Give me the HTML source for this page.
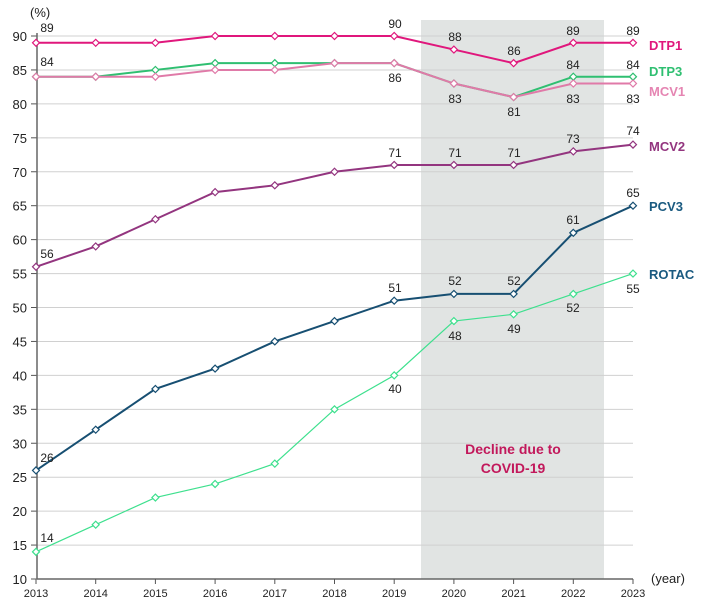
<!DOCTYPE html>
<html><head><meta charset="utf-8"><style>
body{margin:0;background:#fff;}
svg{display:block;font-family:"Liberation Sans",Arial,sans-serif;}
</style></head><body>
<svg id="s" width="706" height="610" xmlns="http://www.w3.org/2000/svg">
<rect x="421" y="20" width="183" height="559" fill="#e1e4e3"/>
<g id="grid"></g>
<text x="30" y="17" font-size="13" fill="#222">(%)</text>
<text x="651" y="583" font-size="13" fill="#222">(year)</text>
<g id="series"></g>
<text x="513" y="454" font-size="14" font-weight="bold" fill="#c2185b" text-anchor="middle">Decline due to</text>
<text x="513" y="473" font-size="14" font-weight="bold" fill="#c2185b" text-anchor="middle">COVID-19</text>
<g font-size="13" font-weight="bold">
<text x="649" y="50" fill="#e0177c">DTP1</text>
<text x="649" y="76" fill="#2fbf71">DTP3</text>
<text x="649" y="96" fill="#e585b2">MCV1</text>
<text x="649" y="151" fill="#93357f">MCV2</text>
<text x="649" y="211" fill="#1a5a80">PCV3</text>
<text x="649" y="279" fill="#1a5a80">ROTAC</text>
</g>
<g id="labels" font-size="12" fill="#222" text-anchor="middle"></g>
</svg>
<script>
const ns="http://www.w3.org/2000/svg";
const X=i=>36+59.7*i, Y=v=>579-(v-10)*6.7875;
function el(t,a,p,txt){const e=document.createElementNS(ns,t);for(const k in a)e.setAttribute(k,a[k]);if(txt!=null)e.textContent=txt;document.getElementById(p).appendChild(e);return e;}
for(let v=10;v<=90;v+=5){const y=Y(v);
 if(v>10)el('line',{x1:37,x2:633,y1:y,y2:y,stroke:'#d0d0d0','stroke-width':1},'grid');
 el('line',{x1:31,x2:37,y1:y,y2:y,stroke:'#555'},'grid');
 el('text',{x:27,y:y+5,'font-size':13,'text-anchor':'end',fill:'#222'},'grid',v);}
el('line',{x1:37,x2:37,y1:Y(90)-3,y2:579,stroke:'#666','stroke-width':1.5},'grid');
el('line',{x1:37,x2:633,y1:579,y2:579,stroke:'#666','stroke-width':1.5},'grid');
for(let i=0;i<=10;i++){el('line',{x1:X(i),x2:X(i),y1:579,y2:584,stroke:'#555'},'grid');
 el('text',{x:X(i),y:597,'font-size':11,'text-anchor':'middle',fill:'#222'},'grid',2013+i);}
const S=[
['#3ee08e',[14,18,22,24,27,35,40,48,49,52,55],1.2],
['#174f72',[26,32,38,41,45,48,51,52,52,61,65],2],
['#93357f',[56,59,63,67,68,70,71,71,71,73,74],2],
['#2fbf71',[84,84,85,86,86,86,86,83,81,84,84],2],
['#e07aa8',[84,84,84,85,85,86,86,83,81,83,83],2],
['#e0177c',[89,89,89,90,90,90,90,88,86,89,89],2]];
for(const [c,d,w] of S){
 el('polyline',{points:d.map((v,i)=>X(i)+','+Y(v)).join(' '),fill:'none',stroke:c,'stroke-width':w},'series');
 d.forEach((v,i)=>el('path',{d:`M${X(i)-3.5},${Y(v)} L${X(i)},${Y(v)-3.5} L${X(i)+3.5},${Y(v)} L${X(i)},${Y(v)+3.5}Z`,fill:'#fff',stroke:c,'stroke-width':1.2},'series'));}
const L=[[47,32,89],[47,66,84],[395,28,90],[455,41,88],[514,55,86],[573,35,89],[633,35,89],
[395,82,86],[455,103,83],[514,116,81],[573,103,83],[633,103,83],[573,69,84],[633,69,84],
[47,258,56],[395,157,71],[455,157,71],[514,157,71],[573,143,73],[633,135,74],
[47,462,26],[395,292,51],[455,285,52],[514,285,52],[573,224,61],[633,197,65],
[47,542,14],[395,393,40],[455,340,48],[514,333,49],[573,312,52],[633,293,55]];
for(const [x,y,t] of L)el('text',{x:x,y:y},'labels',t);
</script>
</body></html>
